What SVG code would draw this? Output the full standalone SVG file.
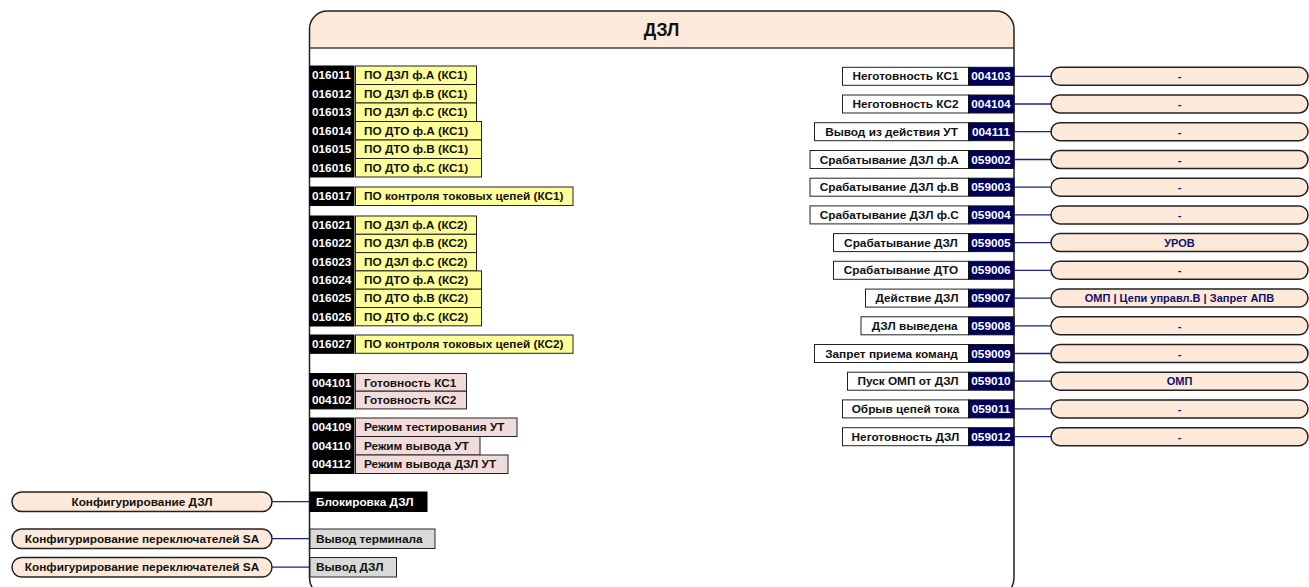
<svg xmlns="http://www.w3.org/2000/svg" width="1309" height="587" viewBox="0 0 1309 587">
  <defs>
    <style>
      text { font-family: "Liberation Sans", Arial, sans-serif; font-weight: bold; font-size: 11.8px; }
      .title { font-size: 17.5px; fill: #111; }
      .code { fill: #000; stroke: #000; stroke-width: 1; }
      .codeTxt { fill: #fff; }
      .ncode { fill: #00005e; stroke: #111; stroke-width: 1; }
      .yel { fill: #ffff99; stroke: #222; stroke-width: 1; }
      .pink { fill: #f2dcdb; stroke: #222; stroke-width: 1; }
      .grey { fill: #d9d9d9; stroke: #222; stroke-width: 1; }
      .lbl { fill: #fff; stroke: #222; stroke-width: 1; }
      .txt { fill: #111; }
      .pill { fill: #fde9d9; stroke: #222; stroke-width: 1.5; }
      .ptxt { fill: #10106b; font-size: 11px; }
      .wire { stroke: #1f1f80; stroke-width: 1.3; fill: none; }
    </style>
  </defs>

  <!-- main function block -->
  <g id="block">
    <rect x="309.5" y="11" width="704.5" height="585" rx="18" ry="18" fill="#fff"/>
    <path d="M309.5 48 V29 A18 18 0 0 1 327.5 11 H996 A18 18 0 0 1 1014 29 V48 Z" fill="#fde9d9"/>
    <line x1="309.5" y1="48" x2="1014" y2="48" stroke="#444" stroke-width="1.5"/>
    <rect x="309.5" y="11" width="704.5" height="585" rx="18" ry="18" fill="none" stroke="#222" stroke-width="1.5"/>
    <text class="title" x="661.5" y="36" text-anchor="middle">ДЗЛ</text>
  </g>

  <!-- input signals, group KC1 -->
  <g id="in-kc1">
    <rect class="code" x="310" y="66" width="44" height="111"/>
    <rect class="yel" x="355.5" y="66" width="121" height="18.5"/>
    <rect class="yel" x="355.5" y="84.5" width="121" height="18.5"/>
    <rect class="yel" x="355.5" y="103" width="121" height="18.5"/>
    <rect class="yel" x="355.5" y="121.5" width="126" height="18.5"/>
    <rect class="yel" x="355.5" y="140" width="126" height="18.5"/>
    <rect class="yel" x="355.5" y="158.5" width="126" height="18.5"/>
    <text class="codeTxt" x="312" y="79">016011</text>
    <text class="codeTxt" x="312" y="97.5">016012</text>
    <text class="codeTxt" x="312" y="116">016013</text>
    <text class="codeTxt" x="312" y="134.5">016014</text>
    <text class="codeTxt" x="312" y="153">016015</text>
    <text class="codeTxt" x="312" y="171.5">016016</text>
    <text class="txt" x="364" y="79">ПО ДЗЛ ф.А (КС1)</text>
    <text class="txt" x="364" y="97.5">ПО ДЗЛ ф.В (КС1)</text>
    <text class="txt" x="364" y="116">ПО ДЗЛ ф.С (КС1)</text>
    <text class="txt" x="364" y="134.5">ПО ДТО ф.А (КС1)</text>
    <text class="txt" x="364" y="153">ПО ДТО ф.В (КС1)</text>
    <text class="txt" x="364" y="171.5">ПО ДТО ф.С (КС1)</text>
  </g>

  <g id="in-016017">
    <rect class="code" x="310" y="187" width="44" height="18.5"/>
    <rect class="yel" x="355.5" y="187" width="217.5" height="18.5"/>
    <text class="codeTxt" x="312" y="200">016017</text>
    <text class="txt" x="364" y="200">ПО контроля токовых цепей (КС1)</text>
  </g>

  <!-- input signals, group KC2 -->
  <g id="in-kc2">
    <rect class="code" x="310" y="216" width="44" height="110"/>
    <rect class="yel" x="355.5" y="216" width="121" height="18.3"/>
    <rect class="yel" x="355.5" y="234.3" width="121" height="18.3"/>
    <rect class="yel" x="355.5" y="252.6" width="121" height="18.3"/>
    <rect class="yel" x="355.5" y="270.9" width="126" height="18.3"/>
    <rect class="yel" x="355.5" y="289.2" width="126" height="18.3"/>
    <rect class="yel" x="355.5" y="307.5" width="126" height="18.3"/>
    <text class="codeTxt" x="312" y="229">016021</text>
    <text class="codeTxt" x="312" y="247.3">016022</text>
    <text class="codeTxt" x="312" y="265.6">016023</text>
    <text class="codeTxt" x="312" y="283.9">016024</text>
    <text class="codeTxt" x="312" y="302.2">016025</text>
    <text class="codeTxt" x="312" y="320.5">016026</text>
    <text class="txt" x="364" y="229">ПО ДЗЛ ф.А (КС2)</text>
    <text class="txt" x="364" y="247.3">ПО ДЗЛ ф.В (КС2)</text>
    <text class="txt" x="364" y="265.6">ПО ДЗЛ ф.С (КС2)</text>
    <text class="txt" x="364" y="283.9">ПО ДТО ф.А (КС2)</text>
    <text class="txt" x="364" y="302.2">ПО ДТО ф.В (КС2)</text>
    <text class="txt" x="364" y="320.5">ПО ДТО ф.С (КС2)</text>
  </g>

  <g id="in-016027">
    <rect class="code" x="310" y="335" width="44" height="18.3"/>
    <rect class="yel" x="355.5" y="335" width="217.5" height="18.3"/>
    <text class="codeTxt" x="312" y="348">016027</text>
    <text class="txt" x="364" y="348">ПО контроля токовых цепей (КС2)</text>
  </g>

  <!-- readiness signals -->
  <g id="in-ready">
    <rect class="code" x="310" y="373.5" width="44" height="35.4"/>
    <rect class="pink" x="355.5" y="373.5" width="111" height="17.7"/>
    <rect class="pink" x="355.5" y="391.2" width="111" height="17.7"/>
    <text class="codeTxt" x="312" y="386.5">004101</text>
    <text class="codeTxt" x="312" y="404.2">004102</text>
    <text class="txt" x="364" y="386.5">Готовность КС1</text>
    <text class="txt" x="364" y="404.2">Готовность КС2</text>
  </g>

  <!-- test / withdrawal modes -->
  <g id="in-modes">
    <rect class="code" x="310" y="418" width="44" height="55.5"/>
    <rect class="pink" x="355.5" y="418" width="161.5" height="18.5"/>
    <rect class="pink" x="355.5" y="436.5" width="124.5" height="18.5"/>
    <rect class="pink" x="355.5" y="455" width="152.5" height="18.5"/>
    <text class="codeTxt" x="312" y="431">004109</text>
    <text class="codeTxt" x="312" y="449.5">004110</text>
    <text class="codeTxt" x="312" y="468">004112</text>
    <text class="txt" x="364" y="431">Режим тестирования УТ</text>
    <text class="txt" x="364" y="449.5">Режим вывода УТ</text>
    <text class="txt" x="364" y="468">Режим вывода ДЗЛ УТ</text>
  </g>

  <!-- control inputs -->
  <g id="in-block">
    <rect class="code" x="310" y="492" width="117" height="19.5"/>
    <text class="codeTxt" x="316" y="505.5">Блокировка ДЗЛ</text>
  </g>
  <g id="in-term">
    <rect class="grey" x="310" y="529" width="125" height="19.5"/>
    <text class="txt" x="316" y="542.5">Вывод терминала</text>
  </g>
  <g id="in-dzl">
    <rect class="grey" x="310" y="557.5" width="86.5" height="19.5"/>
    <text class="txt" x="316" y="571">Вывод ДЗЛ</text>
  </g>

  <!-- source pills on the left -->
  <g id="src-cfg-dzl">
    <rect class="pill" x="12" y="492" width="260" height="19.5" rx="9.7"/>
    <text class="txt" x="142" y="505.5" text-anchor="middle">Конфигурирование ДЗЛ</text>
  </g>
  <g id="src-cfg-sa1">
    <rect class="pill" x="12" y="529" width="260" height="19.5" rx="9.7"/>
    <text class="txt" x="142" y="542.5" text-anchor="middle">Конфигурирование переключателей SA</text>
  </g>
  <g id="src-cfg-sa2">
    <rect class="pill" x="12" y="557.5" width="260" height="19.5" rx="9.7"/>
    <text class="txt" x="142" y="571" text-anchor="middle">Конфигурирование переключателей SA</text>
  </g>

  <!-- output signals -->
  <g id="out-004103">
    <rect class="lbl" x="842.5" y="67.3" width="126" height="18"/>
    <rect class="ncode" x="968.5" y="67.3" width="45.5" height="18"/>
    <text class="txt" x="905.5" y="80.3" text-anchor="middle">Неготовность КС1</text>
    <text class="codeTxt" x="991" y="80.3" text-anchor="middle">004103</text>
  </g>
  <g id="out-004104">
    <rect class="lbl" x="842.5" y="95" width="126" height="18"/>
    <rect class="ncode" x="968.5" y="95" width="45.5" height="18"/>
    <text class="txt" x="905.5" y="108" text-anchor="middle">Неготовность КС2</text>
    <text class="codeTxt" x="991" y="108" text-anchor="middle">004104</text>
  </g>
  <g id="out-004111">
    <rect class="lbl" x="814.5" y="122.7" width="154" height="18"/>
    <rect class="ncode" x="968.5" y="122.7" width="45.5" height="18"/>
    <text class="txt" x="891.5" y="135.7" text-anchor="middle">Вывод из действия УТ</text>
    <text class="codeTxt" x="991" y="135.7" text-anchor="middle">004111</text>
  </g>
  <g id="out-059002">
    <rect class="lbl" x="810" y="150.5" width="158.5" height="18"/>
    <rect class="ncode" x="968.5" y="150.5" width="45.5" height="18"/>
    <text class="txt" x="889.3" y="163.5" text-anchor="middle">Срабатывание ДЗЛ ф.А</text>
    <text class="codeTxt" x="991" y="163.5" text-anchor="middle">059002</text>
  </g>
  <g id="out-059003">
    <rect class="lbl" x="810" y="178.2" width="158.5" height="18"/>
    <rect class="ncode" x="968.5" y="178.2" width="45.5" height="18"/>
    <text class="txt" x="889.3" y="191.2" text-anchor="middle">Срабатывание ДЗЛ ф.В</text>
    <text class="codeTxt" x="991" y="191.2" text-anchor="middle">059003</text>
  </g>
  <g id="out-059004">
    <rect class="lbl" x="810" y="205.9" width="158.5" height="18"/>
    <rect class="ncode" x="968.5" y="205.9" width="45.5" height="18"/>
    <text class="txt" x="889.3" y="218.9" text-anchor="middle">Срабатывание ДЗЛ ф.С</text>
    <text class="codeTxt" x="991" y="218.9" text-anchor="middle">059004</text>
  </g>
  <g id="out-059005">
    <rect class="lbl" x="833.5" y="233.6" width="135" height="18"/>
    <rect class="ncode" x="968.5" y="233.6" width="45.5" height="18"/>
    <text class="txt" x="901" y="246.6" text-anchor="middle">Срабатывание ДЗЛ</text>
    <text class="codeTxt" x="991" y="246.6" text-anchor="middle">059005</text>
  </g>
  <g id="out-059006">
    <rect class="lbl" x="833.5" y="261.3" width="135" height="18"/>
    <rect class="ncode" x="968.5" y="261.3" width="45.5" height="18"/>
    <text class="txt" x="901" y="274.3" text-anchor="middle">Срабатывание ДТО</text>
    <text class="codeTxt" x="991" y="274.3" text-anchor="middle">059006</text>
  </g>
  <g id="out-059007">
    <rect class="lbl" x="865.5" y="289.1" width="103" height="18"/>
    <rect class="ncode" x="968.5" y="289.1" width="45.5" height="18"/>
    <text class="txt" x="917" y="302.1" text-anchor="middle">Действие ДЗЛ</text>
    <text class="codeTxt" x="991" y="302.1" text-anchor="middle">059007</text>
  </g>
  <g id="out-059008">
    <rect class="lbl" x="861" y="316.8" width="107.5" height="18"/>
    <rect class="ncode" x="968.5" y="316.8" width="45.5" height="18"/>
    <text class="txt" x="914.7" y="329.8" text-anchor="middle">ДЗЛ выведена</text>
    <text class="codeTxt" x="991" y="329.8" text-anchor="middle">059008</text>
  </g>
  <g id="out-059009">
    <rect class="lbl" x="814.5" y="344.5" width="154" height="18"/>
    <rect class="ncode" x="968.5" y="344.5" width="45.5" height="18"/>
    <text class="txt" x="891.5" y="357.5" text-anchor="middle">Запрет приема команд</text>
    <text class="codeTxt" x="991" y="357.5" text-anchor="middle">059009</text>
  </g>
  <g id="out-059010">
    <rect class="lbl" x="847.5" y="372.2" width="121" height="18"/>
    <rect class="ncode" x="968.5" y="372.2" width="45.5" height="18"/>
    <text class="txt" x="908" y="385.2" text-anchor="middle">Пуск ОМП от ДЗЛ</text>
    <text class="codeTxt" x="991" y="385.2" text-anchor="middle">059010</text>
  </g>
  <g id="out-059011">
    <rect class="lbl" x="842.5" y="399.9" width="126" height="18"/>
    <rect class="ncode" x="968.5" y="399.9" width="45.5" height="18"/>
    <text class="txt" x="905.5" y="412.9" text-anchor="middle">Обрыв цепей тока</text>
    <text class="codeTxt" x="991" y="412.9" text-anchor="middle">059011</text>
  </g>
  <g id="out-059012">
    <rect class="lbl" x="842.5" y="427.7" width="126" height="18"/>
    <rect class="ncode" x="968.5" y="427.7" width="45.5" height="18"/>
    <text class="txt" x="905.5" y="440.7" text-anchor="middle">Неготовность ДЗЛ</text>
    <text class="codeTxt" x="991" y="440.7" text-anchor="middle">059012</text>
  </g>

  <!-- destination pills on the right -->
  <g id="dst-1"><rect class="pill" x="1051" y="67.3" width="257" height="18" rx="9"/><text class="ptxt" x="1179.5" y="80.3" text-anchor="middle">-</text></g>
  <g id="dst-2"><rect class="pill" x="1051" y="95" width="257" height="18" rx="9"/><text class="ptxt" x="1179.5" y="108" text-anchor="middle">-</text></g>
  <g id="dst-3"><rect class="pill" x="1051" y="122.7" width="257" height="18" rx="9"/><text class="ptxt" x="1179.5" y="135.7" text-anchor="middle">-</text></g>
  <g id="dst-4"><rect class="pill" x="1051" y="150.5" width="257" height="18" rx="9"/><text class="ptxt" x="1179.5" y="163.5" text-anchor="middle">-</text></g>
  <g id="dst-5"><rect class="pill" x="1051" y="178.2" width="257" height="18" rx="9"/><text class="ptxt" x="1179.5" y="191.2" text-anchor="middle">-</text></g>
  <g id="dst-6"><rect class="pill" x="1051" y="205.9" width="257" height="18" rx="9"/><text class="ptxt" x="1179.5" y="218.9" text-anchor="middle">-</text></g>
  <g id="dst-7"><rect class="pill" x="1051" y="233.6" width="257" height="18" rx="9"/><text class="ptxt" x="1179.5" y="246.6" text-anchor="middle">УРОВ</text></g>
  <g id="dst-8"><rect class="pill" x="1051" y="261.3" width="257" height="18" rx="9"/><text class="ptxt" x="1179.5" y="274.3" text-anchor="middle">-</text></g>
  <g id="dst-9"><rect class="pill" x="1051" y="289.1" width="257" height="18" rx="9"/><text class="ptxt" x="1179.5" y="302.1" text-anchor="middle">ОМП | Цепи управл.В | Запрет АПВ</text></g>
  <g id="dst-10"><rect class="pill" x="1051" y="316.8" width="257" height="18" rx="9"/><text class="ptxt" x="1179.5" y="329.8" text-anchor="middle">-</text></g>
  <g id="dst-11"><rect class="pill" x="1051" y="344.5" width="257" height="18" rx="9"/><text class="ptxt" x="1179.5" y="357.5" text-anchor="middle">-</text></g>
  <g id="dst-12"><rect class="pill" x="1051" y="372.2" width="257" height="18" rx="9"/><text class="ptxt" x="1179.5" y="385.2" text-anchor="middle">ОМП</text></g>
  <g id="dst-13"><rect class="pill" x="1051" y="399.9" width="257" height="18" rx="9"/><text class="ptxt" x="1179.5" y="412.9" text-anchor="middle">-</text></g>
  <g id="dst-14"><rect class="pill" x="1051" y="427.7" width="257" height="18" rx="9"/><text class="ptxt" x="1179.5" y="440.7" text-anchor="middle">-</text></g>

  <!-- connectors -->
  <g id="connectors" class="wire">
    <line x1="272" y1="501.7" x2="310" y2="501.7"/>
    <line x1="272" y1="538.7" x2="310" y2="538.7"/>
    <line x1="272" y1="567.2" x2="310" y2="567.2"/>
    <line x1="1014" y1="76.3" x2="1051" y2="76.3"/>
    <line x1="1014" y1="104" x2="1051" y2="104"/>
    <line x1="1014" y1="131.7" x2="1051" y2="131.7"/>
    <line x1="1014" y1="159.5" x2="1051" y2="159.5"/>
    <line x1="1014" y1="187.2" x2="1051" y2="187.2"/>
    <line x1="1014" y1="214.9" x2="1051" y2="214.9"/>
    <line x1="1014" y1="242.6" x2="1051" y2="242.6"/>
    <line x1="1014" y1="270.3" x2="1051" y2="270.3"/>
    <line x1="1014" y1="298.1" x2="1051" y2="298.1"/>
    <line x1="1014" y1="325.8" x2="1051" y2="325.8"/>
    <line x1="1014" y1="353.5" x2="1051" y2="353.5"/>
    <line x1="1014" y1="381.2" x2="1051" y2="381.2"/>
    <line x1="1014" y1="408.9" x2="1051" y2="408.9"/>
    <line x1="1014" y1="436.7" x2="1051" y2="436.7"/>
  </g>
</svg>
